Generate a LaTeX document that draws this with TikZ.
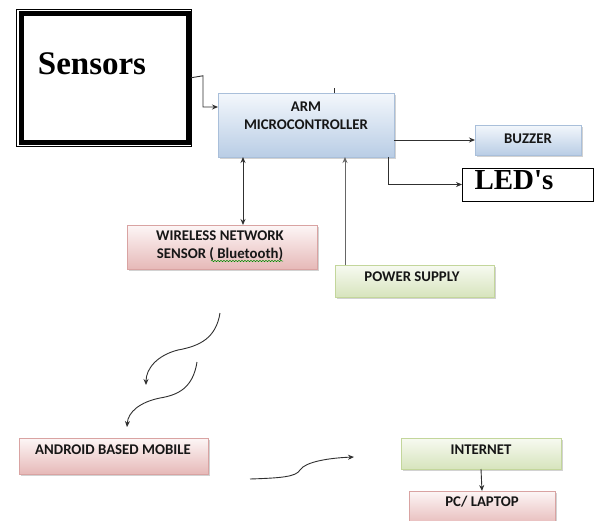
\documentclass[tikz,border=0pt]{standalone}
\usepackage{fontspec}
\setmainfont{Liberation Serif}
\newfontfamily\calfont{Carlito}
\newfontfamily\plainserif[Ligatures=TeXOff]{Liberation Serif}
\usetikzlibrary{arrows.meta,shadows,decorations.pathmorphing}
\definecolor{bluetop}{HTML}{F3F7FC}
\definecolor{bluebot}{HTML}{B9CDE5}
\definecolor{blueline}{HTML}{A9BFDA}
\definecolor{pinktop}{HTML}{FDF6F6}
\definecolor{pinkbot}{HTML}{E6B9B8}
\definecolor{pinkline}{HTML}{D9A3A2}
\definecolor{greentop}{HTML}{F7FAF1}
\definecolor{greenbot}{HTML}{D7E4BD}
\definecolor{greenline}{HTML}{C3D69B}
\definecolor{txt}{HTML}{161616}
\definecolor{wire}{HTML}{303030}
\tikzset{
  every node/.style={outer sep=0pt},
  base/.style={anchor=north west, inner sep=0pt, line width=0.7pt,
    drop shadow={shadow xshift=1.5pt, shadow yshift=-1.5pt, opacity=0.35, fill=gray}},
  bluebox/.style={base, draw=blueline, top color=bluetop, bottom color=bluebot},
  pinkbox/.style={base, draw=pinkline, top color=pinktop, bottom color=pinkbot},
  greenbox/.style={base, draw=greenline, top color=greentop, bottom color=greenbot},
  lbl/.style={text=txt, align=center, inner sep=0pt,
    font=\calfont\bfseries\fontsize{14.8}{18}\selectfont},
  big/.style={inner sep=0pt, font=\plainserif\bfseries\fontsize{33}{36}\selectfont},
  arr/.style={draw=wire, line width=0.9pt, -{Stealth[length=6pt,width=5pt]}},
  arrboth/.style={draw=wire, line width=0.9pt, {Stealth[length=6pt,width=5pt]}-{Stealth[length=6pt,width=5pt]}},
  curve/.style={draw=wire, line width=0.9pt, -{Stealth[length=6pt,width=5pt]}}
}
\begin{document}
\begin{tikzpicture}[x=1pt,y=-1pt]
\useasboundingbox[fill=white] (0,0) rectangle (595,520);

% Sensors
\node[draw, line width=0.6pt, anchor=north west, minimum width=175pt, minimum height=136.5pt, inner sep=0pt] (sensors) at (16,9.5) {};
\node[draw, line width=5pt, anchor=north west, minimum width=167pt, minimum height=129pt, inner sep=0pt] (sensorsin) at (21,13.5) {};
\node[big] (sensorst) at (92,64) {Sensors};

% ARM
\node[bluebox, minimum width=176pt, minimum height=64pt] (arm) at (218,93) {};
\node[lbl] (armt) at (306,116) {ARM\\MICROCONTROLLER};

% Buzzer
\node[bluebox, minimum width=106pt, minimum height=30pt] (buzzer) at (475,125) {};
\node[lbl] (buzzert) at (528,139) {BUZZER};

% LED's
\node[draw, line width=0.8pt, anchor=north west, minimum width=131pt, minimum height=33pt, inner sep=0pt, fill=white] (leds) at (462,168) {};
\node[inner sep=0pt, font=\plainserif\bfseries\fontsize{29}{32}\selectfont] (ledst) at (514,180) {LED's};

% Wireless
\node[pinkbox, minimum width=190pt, minimum height=44pt] (wireless) at (127,225) {};
\node[lbl] (wirelesst) at (220,246) {WIRELESS NETWORK\\SENSOR ( Bluetooth)};
\draw[draw=green!55!black, line width=0.5pt, decorate, decoration={snake, amplitude=0.7pt, segment length=3pt}] (211,261) -- (283,261);

% Power supply
\node[greenbox, minimum width=159pt, minimum height=32pt] (power) at (335,265) {};
\node[lbl] (powert) at (412,277) {POWER SUPPLY};

% Android
\node[pinkbox, minimum width=189pt, minimum height=36pt] (android) at (19,438) {};
\node[lbl] (androidt) at (113,450) {ANDROID BASED MOBILE};

% Internet
\node[greenbox, minimum width=160pt, minimum height=31pt] (internet) at (401,438) {};
\node[lbl] (internett) at (481,450) {INTERNET};

% PC / Laptop
\node[pinkbox, minimum width=146pt, minimum height=35pt] (pc) at (409,491) {};
\node[lbl] (pct) at (482,502) {PC/ LAPTOP};

% connectors
\draw[arr] (sensors.east) -- ([yshift=2pt]sensors.east -| 203,0) |- ([yshift=18pt]arm.west);
\draw[draw=wire, line width=0.8pt] ([xshift=28pt]arm.north) -- ++(0,-5);
\draw[arr] (arm.east |- buzzer.west) -- (buzzer.west);
\draw[arr] ([xshift=-6pt]arm.south east) |- (leds.west);
\draw[arrboth] ([xshift=-63pt]arm.south) -- ([xshift=-63pt]arm.south |- wireless.north);
\draw[arr, draw=gray!80!black] ([xshift=39pt]arm.south |- power.north) -- ([xshift=39pt]arm.south);
\draw[arr] (internet.south) -- (pc.north);

% wireless signal curves
\coordinate (c1s) at (220,313);
\coordinate (c1e) at (146,385);
\coordinate (c2s) at (197,362);
\coordinate (c2e) at (127,427);
\coordinate (c3s) at (250,479);
\coordinate (c3e) at (354,457);
\draw[curve] (c1s) .. controls (216,338) and (200,346) .. (178,350) .. controls (158,355) and (146,368) .. (c1e);
\draw[curve] (c2s) .. controls (193,388) and (178,395) .. (160,398) .. controls (140,402) and (128,412) .. (c2e);
\draw[curve] (c3s) .. controls (280,478) and (296,477) .. (300,470) .. controls (305,462) and (328,458) .. (c3e);
\end{tikzpicture}
\end{document}
